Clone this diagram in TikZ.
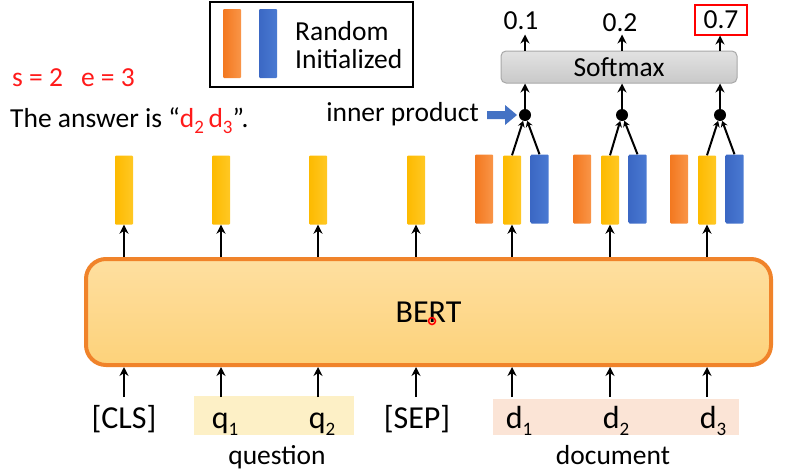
\documentclass[tikz,border=0pt]{standalone}
\usepackage{fontspec}
\setmainfont{Carlito}
\usetikzlibrary{arrows.meta}
\definecolor{bOrangeL}{HTML}{F3781F}
\definecolor{bOrangeR}{HTML}{F99548}
\definecolor{bYellowL}{HTML}{FDBA00}
\definecolor{bYellowR}{HTML}{FFC824}
\definecolor{bBlueL}{HTML}{3B68C4}
\definecolor{bBlueR}{HTML}{4A7AD2}
\definecolor{bertTop}{HTML}{FEDFA0}
\definecolor{bertBot}{HTML}{FDD27A}
\definecolor{bertLine}{HTML}{F0832A}
\definecolor{smTop}{HTML}{E2E2E2}
\definecolor{smBot}{HTML}{C9C9C9}
\definecolor{smLine}{HTML}{A8A8A8}
\definecolor{qFill}{HTML}{FDF0C6}
\definecolor{dFill}{HTML}{FBE4D6}
\definecolor{ipBlue}{HTML}{4472C4}
\definecolor{txtRed}{HTML}{FF1A1A}
\newcommand\sbs[1]{\raisebox{-0.22em}{\fontsize{19}{19}\selectfont #1}}
\newcommand\fbig{\fontsize{32}{34}\selectfont}
\newcommand\fmid{\fontsize{27.5}{30}\selectfont}
\begin{document}
\begin{tikzpicture}[x=1pt,y=-1pt,
  bar/.style={minimum width=18pt,minimum height=69pt,inner sep=0pt,rounded corners=1pt},
  ybar/.style={bar,left color=bYellowL,right color=bYellowR},
  obar/.style={bar,left color=bOrangeL,right color=bOrangeR},
  bbar/.style={bar,left color=bBlueL,right color=bBlueR},
  arr/.style={line width=2.7pt,-{Stealth[length=9pt,width=9pt]}},
  conn/.style={line width=2pt,-{Stealth[length=6pt,width=7pt]}},
  dotnode/.style={circle,fill=black,minimum size=12pt,inner sep=0pt},
  tok/.style={inner sep=0pt,anchor=base,font=\fbig},
  lbl/.style={inner sep=0pt,anchor=base,font=\fmid},
]
\useasboundingbox (0,0) rectangle (799,471);

% legend
\node[draw=black,line width=2pt,minimum width=203pt,minimum height=85pt,inner sep=0pt] (legend) at (311.5,44.5) {};
\node[obar] (legO) at (232,43.5) {};
\node[bbar] (legB) at (268,43.5) {};
\node[lbl,anchor=base west] (legT1) at (295,40) {Random};
\node[lbl,anchor=base west] (legT2) at (295,68) {Initialized};

% left texts
\node[lbl,anchor=base west,text=txtRed] (se) at (12,86) {s = 2\hspace{18pt}e = 3};
\node[lbl,anchor=base west] (ans) at (10,127) {The answer is “\textcolor{txtRed}{d\sbs{2}\,d\sbs{3}}”.};

% highlight boxes
\fill[qFill] (194,396) rectangle (354,435);
\fill[dFill] (493,399) rectangle (739,435);

% BERT
\node[draw=bertLine,line width=4pt,rounded corners=20pt,top color=bertTop,bottom color=bertBot,
  minimum width=685pt,minimum height=106pt,inner sep=0pt,font=\fbig] (bert) at (428.5,312) {BERT};
\node[circle,draw=red,line width=1.5pt,minimum size=7pt,inner sep=0pt] (laser) at (432,321) {};

% tokens
\node[tok] (t1) at (124,428) {[CLS]};
\node[tok] (t2) at (225,428) {q\sbs{1}};
\node[tok] (t3) at (322,428) {q\sbs{2}};
\node[tok] (t4) at (417,428) {[SEP]};
\node[tok] (t5) at (519,428) {d\sbs{1}};
\node[tok] (t6) at (616,428) {d\sbs{2}};
\node[tok] (t7) at (713,428) {d\sbs{3}};
\node[lbl] (qlab) at (277,464) {question};
\node[lbl] (dlab) at (613,464) {document};

\foreach \i/\x in {1/124,2/221,3/318,4/416,5/512,6/610,7/707}{
  \coordinate (in\i) at (\x,397);
  \draw[arr] (in\i) -- (in\i |- bert.south);
  \node[ybar] (y\i) at (\x,190) {};
  \draw[arr] (y\i |- bert.north) -- (y\i.south);
}

% orange and blue bars
\foreach \i/\x in {5/512,6/610,7/707}{
  \node[obar] (o\i) at (\x-28,189) {};
  \node[bbar] (b\i) at (\x+27.5,189) {};
}

% softmax
\node[draw=smLine,line width=1pt,rounded corners=5pt,top color=smTop,bottom color=smBot,
  minimum width=236pt,minimum height=32pt,inner sep=0pt,font=\fmid] (sm) at (619,67) {Softmax};

% dots
\node[dotnode] (d5) at (525,115) {};
\node[dotnode] (d6) at (622,115) {};
\node[dotnode] (d7) at (720,115) {};

% outputs
\node[lbl] (p5) at (521,29) {0.1};
\node[lbl] (p6) at (620,31) {0.2};
\node[draw=red,line width=2pt,minimum width=52pt,minimum height=30pt,inner sep=0pt,font=\fmid] (p7) at (721,19.5) {0.7};

\foreach \i in {5,6,7}{
  \draw[conn] (y\i.north) -- (d\i);
  \draw[conn] (b\i.north) -- (d\i);
  \draw[arr] (d\i) -- (d\i |- sm.south);
}
\draw[arr] (sm.north -| d5) -- ++(0,-16);
\draw[arr] (sm.north -| d6) -- ++(0,-16);
\draw[arr] (sm.north -| d7) -- (d7 |- p7.south);

% inner product label
\node[lbl,anchor=base east] (ip) at (479,121) {inner product};
\fill[ipBlue] (487,111) -- (505,111) -- (505,105) -- (517,115) -- (505,125) -- (505,119) -- (487,119) -- cycle;
\end{tikzpicture}
\end{document}
